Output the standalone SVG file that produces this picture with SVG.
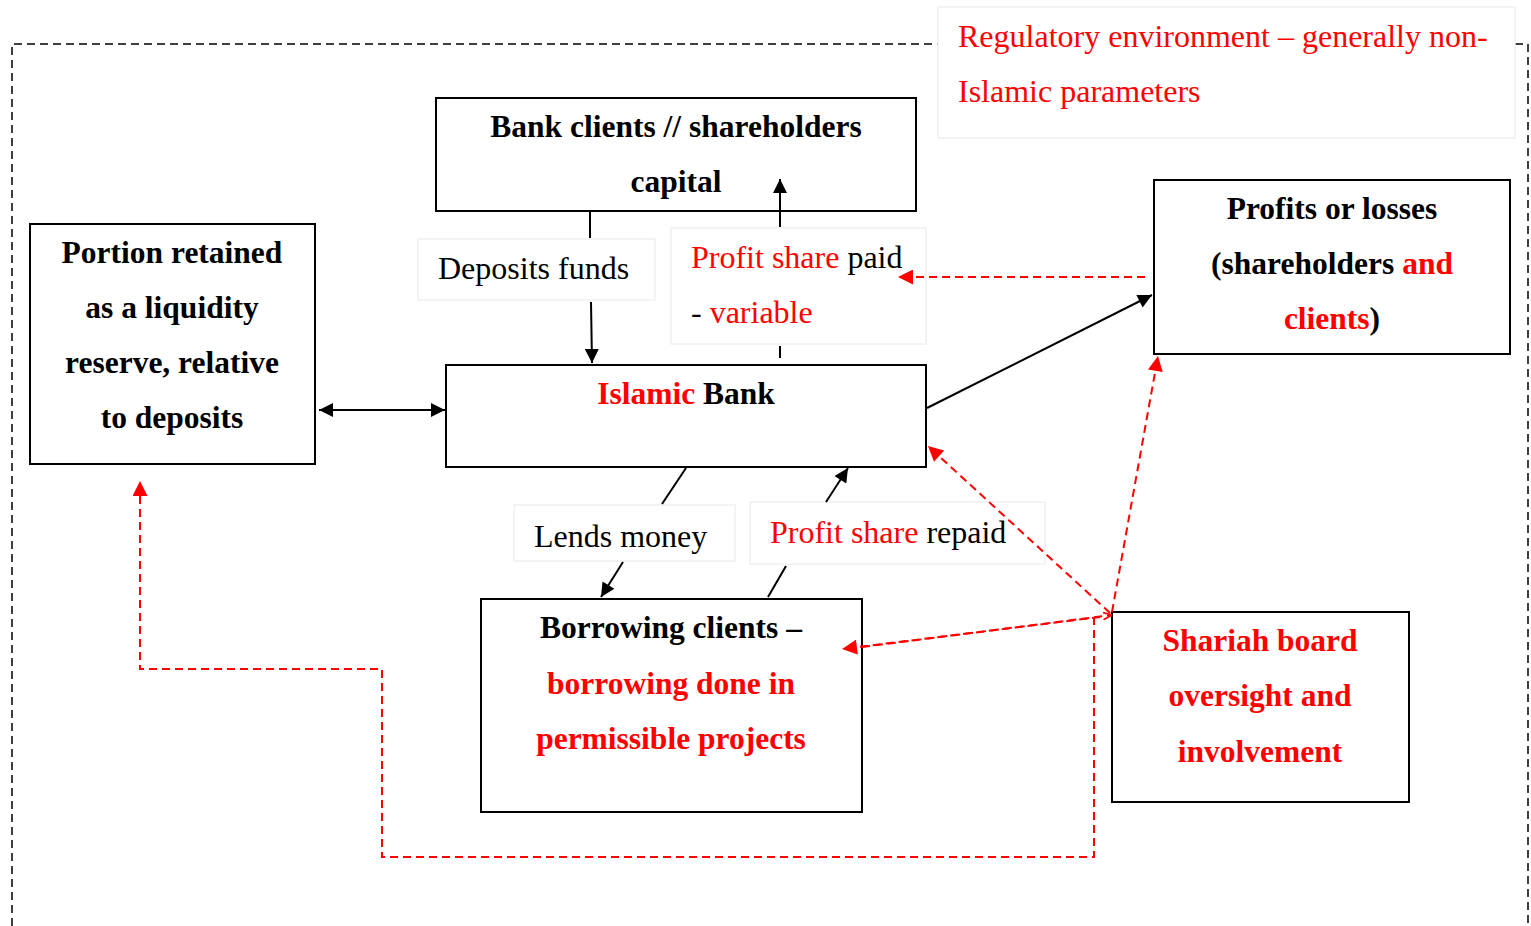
<svg xmlns="http://www.w3.org/2000/svg" width="1531" height="926" viewBox="0 0 1531 926">
  <style>
    .box { fill: #ffffff; stroke: #000000; stroke-width: 2; }
    .lbl { fill: #ffffff; stroke: #f0f0f0; stroke-width: 1.5; }
    .t { font-family: "Liberation Serif", "Times New Roman", serif; font-size: 32px; fill: #000000; }
    .b { font-family: "Liberation Serif", "Times New Roman", serif; font-size: 31.5px; font-weight: bold; fill: #000000; text-anchor: middle; }
    .red { fill: #ff0000; }
    .ln { fill: none; stroke: #000000; stroke-width: 2; }
    .rd { fill: none; stroke: #ff0000; stroke-width: 2; stroke-dasharray: 8 5; }
    .frame { fill: none; stroke: #000000; stroke-width: 1.5; stroke-dasharray: 8 5; }
  </style>
  <defs>
    <marker id="ahb" viewBox="0 0 10 10" refX="10" refY="5" markerWidth="16" markerHeight="14" markerUnits="userSpaceOnUse" orient="auto-start-reverse">
      <path d="M0,0 L10,5 L0,10 z" fill="#000000"/>
    </marker>
    <marker id="rh" viewBox="0 0 10 10" refX="10" refY="5" markerWidth="17" markerHeight="15" markerUnits="userSpaceOnUse" orient="auto">
      <path d="M0,0 L10,5 L0,10 z" fill="#ff0000"/>
    </marker>
    <marker id="rs" viewBox="0 0 10 10" refX="10" refY="5" markerWidth="9" markerHeight="9" markerUnits="userSpaceOnUse" orient="auto">
      <path d="M0,1 L10,5 L0,9" fill="none" stroke="#ff0000" stroke-width="2"/>
    </marker>
  </defs>

  <rect width="1531" height="926" fill="#ffffff"/>

  <!-- outer regulatory frame (open at the bottom) -->
  <g id="frame">
    <path class="frame" d="M12,926 L12,44 L938,44"/>
    <path class="frame" d="M1515,44 L1528,44 L1528,926"/>
  </g>

  <g id="regulatory">
    <rect class="lbl" x="938" y="7" width="577" height="131"/>
    <text class="t red" x="958" y="47">Regulatory environment – generally non-</text>
    <text class="t red" x="958" y="102">Islamic parameters</text>
  </g>

  <g id="bank-clients">
    <rect class="box" x="436" y="98" width="480" height="113"/>
    <text class="b" x="676" y="137">Bank clients // shareholders</text>
    <text class="b" x="676" y="192">capital</text>
  </g>

  <g id="liquidity-reserve">
    <rect class="box" x="30" y="224" width="285" height="240"/>
    <text class="b" x="172" y="263">Portion retained</text>
    <text class="b" x="172" y="318">as a liquidity</text>
    <text class="b" x="172" y="373">reserve, relative</text>
    <text class="b" x="172" y="428">to deposits</text>
  </g>

  <g id="islamic-bank">
    <rect class="box" x="446" y="365" width="480" height="102"/>
    <text class="b" x="686" y="404"><tspan class="red">Islamic</tspan> Bank</text>
  </g>

  <g id="profits">
    <rect class="box" x="1154" y="180" width="356" height="174"/>
    <text class="b" x="1332" y="219">Profits or losses</text>
    <text class="b" x="1332" y="274">(shareholders <tspan class="red">and</tspan></text>
    <text class="b" x="1332" y="329"><tspan class="red">clients</tspan>)</text>
  </g>

  <g id="borrowing-clients">
    <rect class="box" x="481" y="599" width="381" height="213"/>
    <text class="b" x="671" y="638">Borrowing clients –</text>
    <text class="b red" x="671" y="694">borrowing done in</text>
    <text class="b red" x="671" y="749">permissible projects</text>
  </g>

  <g id="shariah-board">
    <rect class="box" x="1112" y="612" width="297" height="190"/>
    <text class="b red" x="1260" y="651">Shariah board</text>
    <text class="b red" x="1260" y="706">oversight and</text>
    <text class="b red" x="1260" y="762">involvement</text>
  </g>

  <!-- edge labels -->
  <g id="label-deposits">
    <rect class="lbl" x="418" y="239" width="237" height="61"/>
    <text class="t" x="438" y="279">Deposits funds</text>
  </g>
  <g id="label-paid">
    <rect class="lbl" x="671" y="228" width="255" height="116"/>
    <text class="t" x="691" y="268"><tspan class="red">Profit share</tspan> paid</text>
    <text class="t" x="691" y="323">- <tspan class="red">variable</tspan></text>
  </g>
  <g id="label-lends">
    <rect class="lbl" x="514" y="505" width="221" height="56"/>
    <text class="t" x="534" y="547">Lends money</text>
  </g>
  <g id="label-repaid">
    <rect class="lbl" x="750" y="502" width="295" height="62"/>
    <text class="t" x="770" y="543"><tspan class="red">Profit share</tspan> repaid</text>
  </g>

  <!-- connectors (black flows stop at label edges; red oversight links run on top) -->
  <g id="connectors">
    <!-- deposits down into bank -->
    <line class="ln" x1="590" y1="211" x2="590" y2="238"/>
    <line class="ln" x1="591" y1="302" x2="592" y2="363" marker-end="url(#ahb)"/>
    <!-- profit share paid up to clients -->
    <line class="ln" x1="780" y1="346" x2="780" y2="358"/>
    <line class="ln" x1="780" y1="227" x2="780" y2="179" marker-end="url(#ahb)"/>
    <!-- liquidity reserve two-way -->
    <line class="ln" x1="319" y1="410" x2="445" y2="410" marker-start="url(#ahb)" marker-end="url(#ahb)"/>
    <!-- bank to profits -->
    <line class="ln" x1="927" y1="408" x2="1152" y2="295" marker-end="url(#ahb)"/>
    <!-- lends money -->
    <line class="ln" x1="686" y1="468" x2="662" y2="504"/>
    <line class="ln" x1="623" y1="562" x2="601" y2="597" marker-end="url(#ahb)"/>
    <!-- profit share repaid -->
    <line class="ln" x1="768" y1="597" x2="786" y2="566"/>
    <line class="ln" x1="826" y1="502" x2="848" y2="468" marker-end="url(#ahb)"/>

    <!-- shariah oversight links -->
    <line class="rd" x1="1145" y1="277" x2="898" y2="277" marker-end="url(#rh)"/>
    <line class="rd" x1="1110" y1="613" x2="928" y2="446" marker-end="url(#rh)"/>
    <line class="rd" x1="1112" y1="612" x2="1158" y2="356" marker-end="url(#rh)"/>
    <line class="rd" x1="862" y1="647" x2="1112" y2="615" marker-end="url(#rs)"/>
    <line class="rd" x1="1100" y1="617" x2="842" y2="649" marker-end="url(#rh)"/>
    <path class="rd" d="M1094,617 L1094,857 L382,857 L382,669 L140,669 L140,481" marker-end="url(#rh)"/>
  </g>
</svg>
